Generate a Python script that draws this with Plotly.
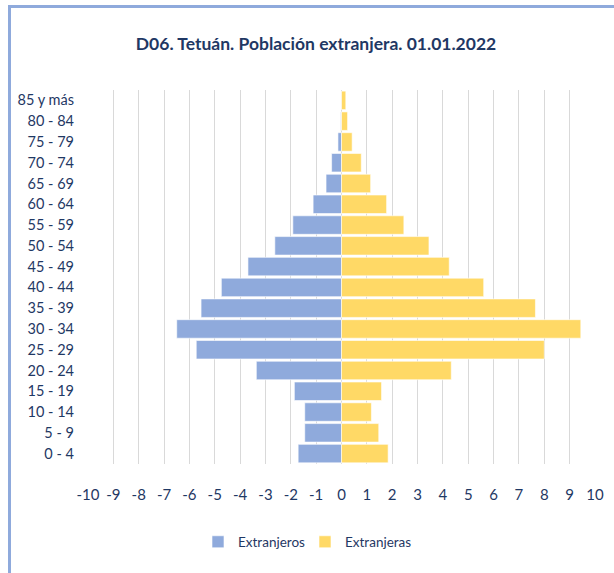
import plotly.graph_objects as go

age_groups = ["0 - 4", "5 - 9", "10 - 14", "15 - 19", "20 - 24", "25 - 29", "30 - 34",
              "35 - 39", "40 - 44", "45 - 49", "50 - 54", "55 - 59", "60 - 64",
              "65 - 69", "70 - 74", "75 - 79", "80 - 84", "85 y más"]
extranjeros = [1.71, 1.45, 1.45, 1.86, 3.36, 5.73, 6.50, 5.54, 4.74, 3.69, 2.63, 1.92,
               1.12, 0.61, 0.39, 0.14, 0.03, 0.02]
extranjeras = [1.84, 1.47, 1.18, 1.58, 4.33, 8.00, 9.44, 7.65, 5.61, 4.25, 3.45, 2.46,
               1.78, 1.15, 0.78, 0.42, 0.24, 0.17]
tick_values = list(range(-10, 11))
tick_labels = [str(v) for v in tick_values]

title_text = "D06. Tetuán. Población extranjera. 01.01.2022"
FONT = "Lato, sans-serif"
NAVY = "#1F3864"
BLUE = "#8FAADC"
YELLOW = "#FFD966"

fig = go.Figure()
fig.add_trace(go.Bar(
    y=age_groups, x=[-v for v in extranjeros], orientation="h", name="Extranjeros",
    marker=dict(color=BLUE, line=dict(color="white", width=0.6)),
))
fig.add_trace(go.Bar(
    y=age_groups, x=extranjeras, orientation="h", name="Extranjeras",
    marker=dict(color=YELLOW, line=dict(color="white", width=0.6)),
))

W, H = 614, 573
L, R, T, B = 88, 19, 90, 109
pw, ph = W - L - R, H - T - B

def px_x(x):
    return (x - L) / pw

def px_y(y):
    return (H - B - y) / ph

fig.update_layout(
    width=W, height=H,
    margin=dict(l=L, r=R, t=T, b=B, autoexpand=False),
    barmode="overlay", bargap=0.11,
    paper_bgcolor="white", plot_bgcolor="white",
    font=dict(family=FONT, color=NAVY, size=15),
    title=dict(text="<b>" + title_text + "</b>", x=px_x(316), xref="paper", xanchor="center",
               y=1 - 44 / H, yanchor="middle", font=dict(size=17.5, color=NAVY, family=FONT)),
    xaxis=dict(range=[-10, 10], tickvals=tick_values, ticktext=tick_labels,
               showgrid=True, gridcolor="#D9D9D9", gridwidth=1.3, zeroline=False,
               showline=False, ticks="", ticklabelstandoff=20, automargin=False,
               tickfont=dict(size=15, color=NAVY, family=FONT), fixedrange=True),
    yaxis=dict(showgrid=False, zeroline=False, showline=False, ticks="",
               ticklabelstandoff=13, automargin=False,
               tickfont=dict(size=14.5, color=NAVY, family=FONT),
               categoryorder="array", categoryarray=age_groups),
    legend=dict(orientation="h", x=px_x(198), xanchor="left", xref="paper",
                y=px_y(542), yanchor="middle", font=dict(size=13.5, color=NAVY, family=FONT),
                itemwidth=30, traceorder="normal", entrywidth=62, entrywidthmode="pixels"),
    showlegend=True,
    shapes=[
        dict(type="rect", xref="paper", yref="paper", x0=px_x(9.5), x1=px_x(660),
             y0=px_y(6.5), y1=px_y(660), line=dict(color=BLUE, width=3),
             fillcolor="rgba(0,0,0,0)", layer="above"),
    ],
)

fig.write_html("out.html", config={"displayModeBar": False},
               post_script="document.body.style.margin='0';")
